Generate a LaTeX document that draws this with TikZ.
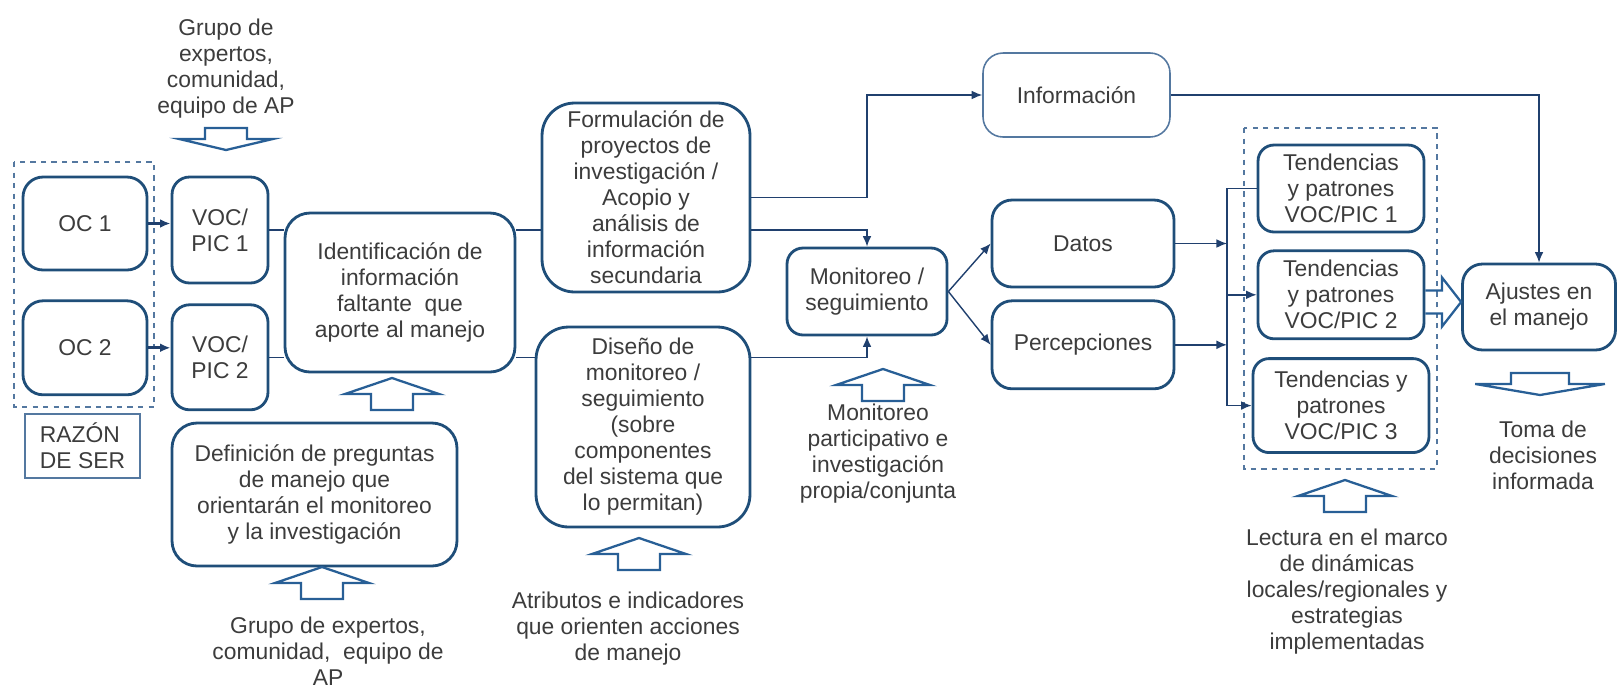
\documentclass[tikz,border=0pt]{standalone}
\usepackage{fontspec}
\setmainfont{Liberation Sans}
\usetikzlibrary{arrows.meta, positioning, calc}
\definecolor{boxblue}{RGB}{31, 78, 121}
\definecolor{lineblue}{RGB}{32, 64, 110}
\definecolor{dashblue}{RGB}{84, 120, 160}
\definecolor{fatblue}{RGB}{40, 95, 150}
\definecolor{txtgray}{RGB}{60, 60, 60}

\begin{document}
\begin{tikzpicture}[x=0.02cm, y=-0.02cm,
            font=\fontsize{13}{14.8}\selectfont, text=txtgray,
            box/.style={draw=boxblue, line width=1.6pt, rounded corners=0.4cm, align=center, inner sep=2pt, fill=white},
            bigbox/.style={box, rounded corners=0.65cm},
            note/.style={align=center, inner sep=0pt},
            dashbox/.style={draw=dashblue, dashed, line width=0.9pt},
            link/.style={draw=lineblue, line width=0.8pt},
            fatup/.pic={\draw[fatblue, line width=1.3pt, fill=white] (0,0) -- (47,16) -- (21,16) -- (21,32) -- (-21,32) -- (-21,16) -- (-47,16) -- cycle;},
            >={Latex[length=6pt, width=5pt]}]
          \useasboundingbox (0,0) rectangle (1618,691);
          % left column
          \node[note] (grptop) at (226,69) {Grupo de\\expertos,\\comunidad,\\equipo de AP};
          \pic[yscale=-0.69] at (226,150) {fatup};
          \draw[dashbox] (14,162) rectangle (154,407);
          \node[box, minimum width=2.48cm, minimum height=1.86cm] (oc1) at (85,223.5) {OC 1};
          \node[box, minimum width=2.48cm, minimum height=1.88cm, below=0.56cm of oc1] (oc2) {OC 2};
          \node[draw=dashblue, line width=1pt, align=left, minimum width=2.3cm, minimum height=1.28cm] (razon) at (82.5,446) {RAZÓN\\DE SER};
          \node[box, rounded corners=0.35cm, minimum width=1.92cm, minimum height=2.12cm] (voc1) at (220,230) {VOC/\\PIC 1};
          \node[box, rounded corners=0.35cm, minimum width=1.92cm, minimum height=2.1cm, below=0.38cm of voc1] (voc2) {VOC/\\PIC 2};
          \node[box, rounded corners=0.5cm, minimum width=4.6cm, minimum height=3.18cm] (ident) at (400,292.5) {Identificación de\\información\\faltante~ que\\aporte al manejo};
          \pic at (392,378) {fatup};
          \node[box, rounded corners=0.5cm, minimum width=5.7cm, minimum height=2.86cm] (defin) at (314.5,494.5) {Definición de preguntas\\de manejo que\\orientarán el monitoreo\\y la investigación};
          \pic at (322,567) {fatup};
          \node[note] (grpbot) at (328,651) {Grupo de expertos,\\comunidad,~ equipo de\\AP};
          % middle
          \node[bigbox, minimum width=4.16cm, minimum height=3.78cm] (formul) at (646,197.5) {Formulación de\\proyectos de\\investigación /\\Acopio y\\análisis de\\información\\secundaria};
          \node[bigbox, minimum width=4.28cm, minimum height=4cm] (diseno) at (643,427) {Diseño de\\monitoreo /\\seguimiento\\(sobre\\componentes\\del sistema que\\lo permitan)};
          \pic at (639,538) {fatup};
          \node[note] (atrib) at (628,629) {Atributos e indicadores\\que orienten acciones\\de manejo};
          \node[box, rounded corners=0.32cm, minimum width=3.2cm, minimum height=1.74cm] (monit) at (867,291.5) {Monitoreo /\\seguimiento};
          \pic at (883,369) {fatup};
          \node[note] (partic) at (878,454) {Monitoreo\\participativo e\\investigación\\propia/conjunta};
          % right
          \node[draw=dashblue, line width=0.9pt, rounded corners=0.4cm, minimum width=3.74cm, minimum height=1.68cm] (info) at (1076.5,95) {Información};
          \node[box, minimum width=3.64cm, minimum height=1.74cm] (datos) at (1083,243.5) {Datos};
          \node[box, minimum width=3.64cm, minimum height=1.76cm, below=0.22cm of datos] (percep) {Percepciones};
          \draw[dashbox] (1244,128) rectangle (1437,469);
          \node[box, rounded corners=0.32cm, minimum width=3.32cm, minimum height=1.74cm] (tend1) at (1341,188.5) {Tendencias\\y patrones\\VOC/PIC 1};
          \node[box, rounded corners=0.32cm, minimum width=3.32cm, minimum height=1.76cm, below=0.32cm of tend1] (tend2) {Tendencias\\y patrones\\VOC/PIC 2};
          \node[box, rounded corners=0.32cm, minimum width=3.52cm, minimum height=1.88cm, below=0.34cm of tend2] (tend3) {Tendencias y\\patrones\\VOC/PIC 3};
          \pic at (1345,480) {fatup};
          \node[note] (lectura) at (1347,592) {Lectura en el marco\\de dinámicas\\locales/regionales y\\estrategias\\implementadas};
          \node[box, minimum width=3.06cm, minimum height=1.72cm] (ajustes) at (1539,307) {Ajustes en\\el manejo};
          \pic[xscale=1.38, yscale=-0.69] at (1540,395) {fatup};
          \node[note] (toma) at (1543,455) {Toma de\\decisiones\\informada};
          % connectors
          \draw[link, ->, line width=1.6pt] (oc1.east) -- (oc1.east -| voc1.west);
          \draw[link, ->, line width=1.6pt] (oc2.east) -- (oc2.east -| voc2.west);
          \draw[link] (voc1) -- (voc1 -| ident.west);
          \draw[link] (voc2) -- (voc2 -| ident.west);
          \draw[link] (ident.east |- voc1) -- (formul.west |- voc1);
          \draw[link] (ident.east |- voc2) -- (diseno.west |- voc2);
          \draw[link, ->] (formul.east) -| (info -| monit.north) -- (info.west);
          \draw[link, ->] (formul.east |- voc1) -| (monit.north);
          \draw[link, ->] (diseno.east |- voc2) -| (monit.south);
          \draw[link, ->] (monit.east) -- (datos.west);
          \draw[link, ->] (monit.east) -- (percep.west);
          \draw[link, ->] (info.east) -| (ajustes.north);
          \coordinate (bus) at (1227,0);
          \draw[link, ->] (datos) -- (datos -| bus);
          \draw[link, ->] (percep) -- (percep -| bus);
          \draw[link] (tend1.west) -| (bus |- tend3);
          \draw[link, ->] (bus |- tend2) -- (tend2.west);
          \draw[link, ->] (bus |- tend3) -- (tend3.west);
          \draw[fatblue, line width=1.3pt] (tend2.east |- 0,290.5) -- (1442,290.5) -- (1442,277.5) -- (ajustes.west |- 0,302) -- (1442,326.5) -- (1442,313.5) -- (tend2.east |- 0,313.5);
        \end{tikzpicture}
\end{document}
